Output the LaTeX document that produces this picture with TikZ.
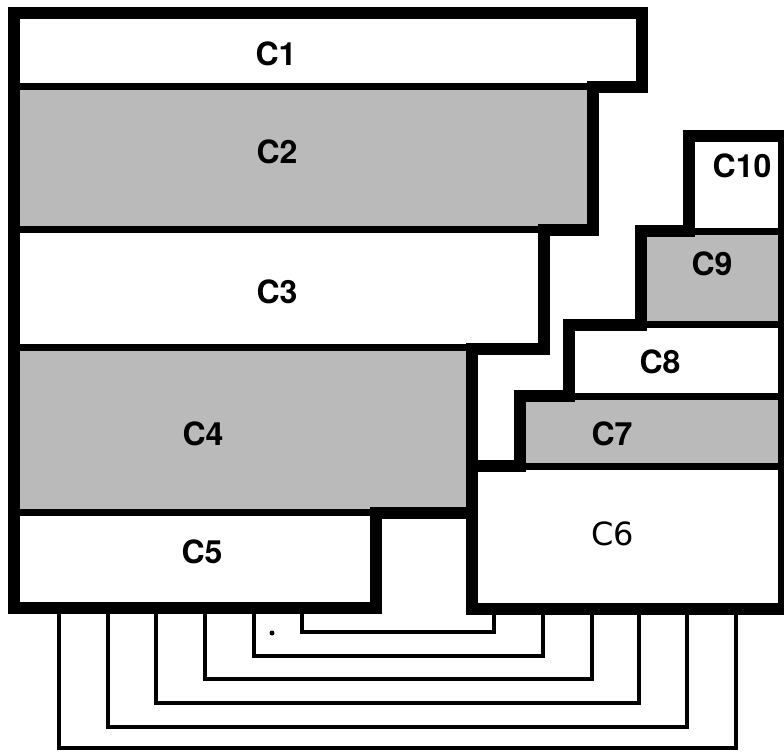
\documentclass[tikz,border=0pt]{standalone}
\usepackage{fontspec}
\setsansfont{TeX Gyre Heros}
\newfontfamily\thinfont{DejaVu Sans}
\begin{document}
\begin{tikzpicture}[x=1pt, y=-1pt,
  every node/.style={inner sep=0pt, font=\sffamily\bfseries\fontsize{32}{32}\selectfont},
  shade/.style={fill=black!27},
  outline/.style={line width=12pt, line join=miter},
  sep/.style={line width=7pt},
  wire/.style={line width=3.5pt},
  speck/.style={circle, fill=black, minimum size=5pt}]
\useasboundingbox (0,0) rectangle (784,755);
\fill[shade] (14,86) rectangle (592.5,229);
\fill[shade] (14,347) rectangle (471.5,512);
\fill[shade] (641,231) rectangle (784,324.5);
\fill[shade] (520,396) rectangle (784,466);
\draw[sep] (14,86) -- (592.5,86);
\draw[sep] (14,229) -- (544,229);
\draw[sep] (14,347) -- (471.5,347);
\draw[sep] (14,512) -- (376,512);
\draw[sep] (689,231) -- (784,231);
\draw[sep] (641,324.5) -- (784,324.5);
\draw[sep] (568.5,396) -- (784,396);
\draw[sep] (520,466) -- (784,466);
\draw[outline] (14,12.5) -- (641.5,12.5) -- (641.5,87) -- (592.5,87) -- (592.5,230) -- (544,230) -- (544,349) -- (471.5,349) -- (471.5,513) -- (376,513) -- (376,607.5) -- (14,607.5) -- cycle;
\draw[outline] (689,136) -- (784,136) -- (784,609) -- (471.5,609) -- (471.5,466) -- (520,466) -- (520,396) -- (568.5,396) -- (568.5,324.5) -- (641,324.5) -- (641,231) -- (689,231) -- cycle;
\node (C1) at (276,54) {C1};
\node (C2) at (277,152) {C2};
\node (C3) at (277,292) {C3};
\node (C4) at (203,434) {C4};
\node (C5) at (202,552) {C5};
\node[font=\thinfont\fontsize{32}{32}\selectfont] (C6) at (613,534) {C6};
\node (C7) at (612,434) {C7};
\node (C8) at (660,362) {C8};
\node (C9) at (712,264) {C9};
\node (C10) at (742,166) {C10};
\coordinate (W1a) at (59,613); \coordinate (W1b) at (736,615);
\coordinate (W2a) at (108,613); \coordinate (W2b) at (687,615);
\coordinate (W3a) at (156,613); \coordinate (W3b) at (639,615);
\coordinate (W4a) at (205,613); \coordinate (W4b) at (592,615);
\coordinate (W5a) at (254,613); \coordinate (W5b) at (543,615);
\coordinate (W6a) at (302,613); \coordinate (W6b) at (494,615);
\draw[wire] (W1a) -- ++(0,135) -| (W1b);
\draw[wire] (W2a) -- ++(0,114) -| (W2b);
\draw[wire] (W3a) -- ++(0,90) -| (W3b);
\draw[wire] (W4a) -- ++(0,66) -| (W4b);
\draw[wire] (W5a) -- ++(0,43) -| (W5b);
\draw[wire] (W6a) -- ++(0,19) -| (W6b);
\node[speck] (dot) at (272,633) {};
\end{tikzpicture}
\end{document}
